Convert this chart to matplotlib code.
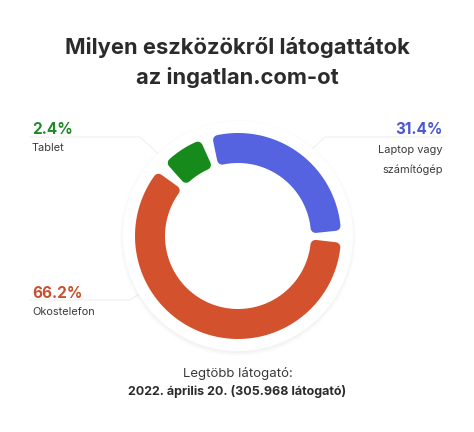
import numpy as np
import matplotlib.pyplot as plt
from matplotlib.patches import Circle, PathPatch
from matplotlib.path import Path

# data
labels = ["Laptop vagy\nszámítógép", "Okostelefon", "Tablet"]
values = [31.4, 66.2, 2.4]
colors = ["#5563e0", "#d3522d", "#178a1c"]
text_colors = ["#4b57cf", "#c9502e", "#1f8a26"]

W, H = 474, 432
fig = plt.figure(figsize=(W / 100, H / 100), dpi=100)
ax = fig.add_axes([0, 0, 1, 1])
ax.set_xlim(0, W)
ax.set_ylim(H, 0)
ax.set_aspect("equal")
ax.axis("off")

cx, cy = 238, 236
r_out, r_in = 103, 73
corner = 5          # rounding radius in px
gap = 6             # gap between segments, degrees
min_ang = 24        # smallest slice shown, degrees
start = 105         # angle where first slice starts (math degrees)

# background disc with a faint shadow
for i, a in enumerate([0.01, 0.015, 0.02]):
    ax.add_patch(Circle((cx, cy + 2), 118 - i * 1.5, facecolor="#000000",
                        alpha=a, edgecolor="none", zorder=1))
ax.add_patch(Circle((cx, cy), 115, facecolor="white", edgecolor="none", zorder=2))

# faint leader lines
lc = "#f0f0f0"
ax.plot([30, 140, 165], [137, 137, 160], color=lc, lw=0.8, zorder=0.5)
ax.plot([444, 325, 300], [137, 137, 160], color=lc, lw=0.8, zorder=0.5)
ax.plot([30, 130, 145], [300, 300, 290], color=lc, lw=0.8, zorder=0.5)

# angular spans: small slices get a minimum size, the rest proportional
vals = np.array(values)
span_total = 360 - gap * len(vals)
small = vals / vals.sum() * span_total < min_ang
spans = np.where(small, min_ang, 0.0)
rest = span_total - spans.sum()
spans[~small] = vals[~small] / vals[~small].sum() * rest


def sector(t1, t2, r1, r2):
    # annular sector in pixel coords (y down), t1 > t2 (clockwise)
    th = np.radians(np.linspace(t1, t2, 80))
    xo = cx + r2 * np.cos(th)
    yo = cy - r2 * np.sin(th)
    xi = cx + r1 * np.cos(th[::-1])
    yi = cy - r1 * np.sin(th[::-1])
    verts = np.column_stack([np.r_[xo, xi, xo[0]], np.r_[yo, yi, yo[0]]])
    codes = [Path.MOVETO] + [Path.LINETO] * (len(verts) - 2) + [Path.CLOSEPOLY]
    return Path(verts, codes)


a = start
for s, c in zip(spans, colors):
    # shrink the shape by the corner radius, then stroke it with round joins
    r_mid = (r_out + r_in) / 2
    da = np.degrees(corner / r_mid)
    p = sector(a - da, a - s + da, r_in + corner, r_out - corner)
    ax.add_patch(PathPatch(p, facecolor=c, edgecolor=c, lw=2 * corner * 0.72,
                           joinstyle="round", zorder=3))
    a -= s + gap

font = "Inter"
# title
ax.text(237, 47, "Milyen eszközökről látogattátok", ha="center", va="center",
        fontsize=15.8, fontweight="bold", color="#2b2b2b", family=font)
ax.text(237, 77, "az ingatlan.com-ot", ha="center", va="center",
        fontsize=15.8, fontweight="bold", color="#2b2b2b", family=font)

# labels
ax.text(32, 129, f"{values[2]:.1f}%", ha="left", va="center", fontsize=11,
        fontweight="bold", color=text_colors[2], family=font)
ax.text(32, 148, "Tablet", ha="left", va="center", fontsize=7.9,
        color="#3a3a3a", family=font)

ax.text(443, 129, f"{values[0]:.1f}%", ha="right", va="center", fontsize=11,
        fontweight="bold", color=text_colors[0], family=font)
ax.text(443, 150, "Laptop vagy", ha="right", va="center", fontsize=7.9,
        color="#3a3a3a", family=font)
ax.text(443, 170, "számítógép", ha="right", va="center", fontsize=7.9,
        color="#3a3a3a", family=font)

ax.text(32, 293, f"{values[1]:.1f}%", ha="left", va="center", fontsize=11,
        fontweight="bold", color=text_colors[1], family=font)
ax.text(32, 312, "Okostelefon", ha="left", va="center", fontsize=7.9,
        color="#3a3a3a", family=font)

# footer
ax.text(238, 373, "Legtöbb látogató:", ha="center", va="center", fontsize=9.5,
        color="#3a3a3a", family=font)
ax.text(237, 391, "2022. április 20. (305.968 látogató)", ha="center",
        va="center", fontsize=9, fontweight="bold", color="#2b2b2b", family=font)

fig.savefig("out.png", dpi=100, facecolor="white")
